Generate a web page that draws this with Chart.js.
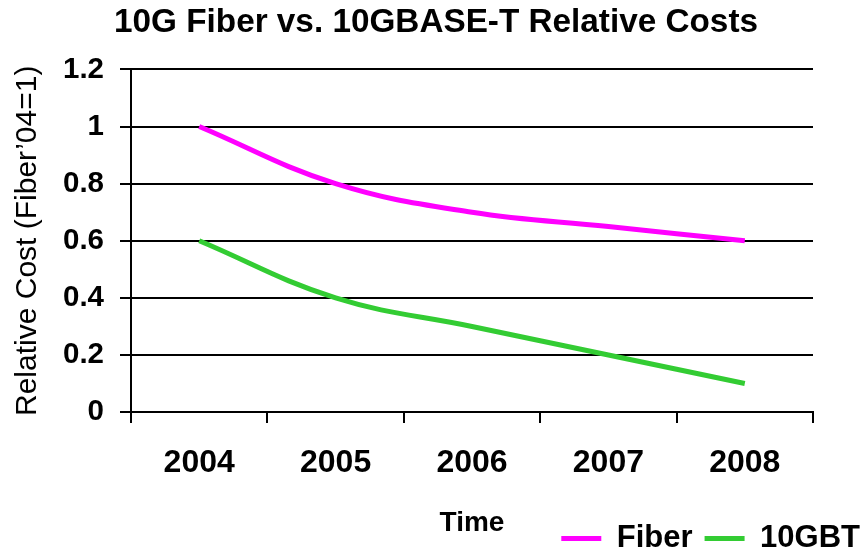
<!DOCTYPE html>
<html>
<head>
<meta charset="utf-8">
<title>10G Fiber vs. 10GBASE-T Relative Costs</title>
<script src="https://cdn.jsdelivr.net/npm/chart.js@4/dist/chart.umd.min.js"></script>
<style>
  html, body { margin: 0; padding: 0; background: #fff; }
  canvas { display: block; }
</style>
</head>
<body>
<canvas id="line-chart" width="864" height="552"></canvas>
<script>
var years = ['2004', '2005', '2006', '2007', '2008'];
var fiberCost = [1, 0.8, 0.7, 0.65, 0.6];
var tenGbtCost = [0.6, 0.4, 0.3, 0.2, 0.1];
var yTickLabels = ['0', '0.2', '0.4', '0.6', '0.8', '1', '1.2'];

var fontFamily = "'Liberation Sans', Arial, sans-serif";

var canvas = document.getElementById('line-chart');

var data = {
    labels: years,
    datasets: [{
        label: 'Fiber',
        data: fiberCost,
        borderColor: '#ff00ff',
        backgroundColor: '#ff00ff',
        borderWidth: 5,
        pointRadius: 0,
        tension: 0.4,
        fill: false
    }, {
        label: '10GBT',
        data: tenGbtCost,
        borderColor: '#33cc33',
        backgroundColor: '#33cc33',
        borderWidth: 5,
        pointRadius: 0,
        tension: 0.4,
        fill: false
    }]
};

var options = {
    responsive: false,
    animation: false,
    layout: {
        padding: { left: 0, right: -8, top: 0, bottom: -12 }
    },
    plugins: {
        title: {
            display: true,
            text: '10G Fiber vs. 10GBASE-T Relative Costs',
            color: '#000',
            font: { family: fontFamily, size: 33.3, weight: 'bold' },
            padding: { top: 3, bottom: 26.5 }
        },
        legend: {
            position: 'bottom',
            align: 'end',
            labels: {
                color: '#000',
                font: { family: fontFamily, size: 31, weight: 'bold' },
                usePointStyle: true,
                pointStyle: 'line',
                pointStyleWidth: 40,
                padding: 12
            }
        },
        tooltip: { enabled: false }
    },
    scales: {
        x: {
            offset: true,
            grid: {
                display: true,
                offset: true,
                drawOnChartArea: false,
                color: '#000',
                lineWidth: 2,
                tickLength: 11
            },
            border: { color: '#000', width: 2 },
            ticks: {
                color: '#000',
                padding: 21,
                font: { family: fontFamily, size: 32, weight: 'bold' }
            },
            title: {
                display: true,
                text: 'Time',
                color: '#000',
                font: { family: fontFamily, size: 28, weight: 'bold' },
                padding: { top: 3.2, bottom: -29.3 }
            }
        },
        y: {
            min: 0,
            max: 1.2,
            grid: {
                color: '#000',
                lineWidth: 2,
                tickLength: 11
            },
            border: { color: '#000', width: 2 },
            ticks: {
                stepSize: 0.2,
                color: '#000',
                padding: 16,
                font: { family: fontFamily, size: 29.5, weight: 'bold' },
                callback: function (value, index) { return yTickLabels[index]; }
            },
            title: {
                display: true,
                text: "Relative Cost (Fiber\u201904=1)",
                color: '#000',
                font: { family: fontFamily, size: 30 },
                padding: { top: 10, bottom: 1 }
            }
        },
        yRight: {
            position: 'right',
            display: true,
            grid: { display: false, drawOnChartArea: false },
            border: { display: false },
            ticks: { display: false },
            afterFit: function (scale) { scale.width = 59; }
        }
    }
};

// Create the chart
var lineChart = new Chart(canvas, {
    type: 'line',
    data: data,
    options: options
});
</script>
</body>
</html>
